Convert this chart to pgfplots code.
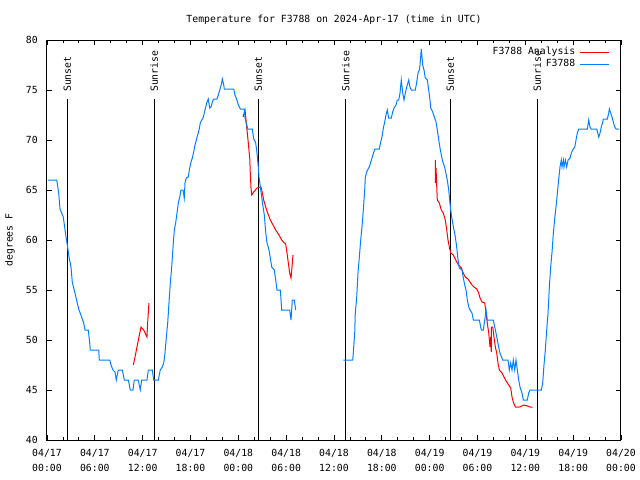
\documentclass[border=0pt]{standalone}
\usepackage{pgfplots}
\pgfplotsset{compat=1.18}
\usepackage{fontspec}
\setmainfont{DejaVu Sans Mono}
\definecolor{obsblue}{RGB}{0,128,255}
\newcommand\gfont{\fontsize{9.8bp}{15bp}\selectfont}
\begin{document}
\begin{tikzpicture}
\begin{axis}[
  scale only axis, width=574bp, height=400bp,
  xmin=0, xmax=72, ymin=40, ymax=80,
  xtick={0,6,...,72}, minor x tick num=2,
  xticklabels={{04/17\\00:00},{04/17\\06:00},{04/17\\12:00},{04/17\\18:00},{04/18\\00:00},{04/18\\06:00},{04/18\\12:00},{04/18\\18:00},{04/19\\00:00},{04/19\\06:00},{04/19\\12:00},{04/19\\18:00},{04/20\\00:00}},
  ytick={40,45,...,80},
  tick align=inside, tick pos=both,
  major tick length=5bp, minor tick length=3bp,
  every tick/.style={black, line width=0.8bp},
  axis line style={line width=1bp},
  /pgf/number format/assume math mode=true,
  tick label style={font=\gfont},
  xticklabel style={align=center, inner sep=0pt, yshift=-9bp},
  yticklabel style={inner sep=0pt, xshift=-9bp},
  title={Temperature for F3788 on 2024-Apr-17 (time in UTC)},
  title style={font=\gfont, at={(axis description cs:0.5,1)}, anchor=center, yshift=14bp, inner sep=0pt},
  ylabel={degrees F},
  ylabel style={font=\gfont, at={(axis description cs:-0.0645,0.5)}, anchor=center, rotate=0, inner sep=0pt},
  unbounded coords=jump,
  legend plot pos=right,
  legend cell align=right,
  legend image code/.code={\draw[#1] (0bp,0bp) -- (29bp,0bp);},
  legend style={draw=none, fill=none, at={(axis description cs:1,1)}, anchor=north east, xshift=-11bp, yshift=-6bp, inner sep=0pt, row sep=0pt, column sep=3bp, font=\gfont, nodes={inner sep=1.5bp, text height=7bp, text depth=2bp}},
]
\coordinate (sw) at (rel axis cs:0,0);
% sunrise / sunset lines
\addplot[black, line width=1bp, forget plot] coordinates {(2.55,40) (2.55,74.1)};
\addplot[black, line width=1bp, forget plot] coordinates {(13.46,40) (13.46,74.1)};
\addplot[black, line width=1bp, forget plot] coordinates {(26.51,40) (26.51,74.1)};
\addplot[black, line width=1bp, forget plot] coordinates {(37.47,40) (37.47,74.1)};
\addplot[black, line width=1bp, forget plot] coordinates {(50.60,40) (50.60,74.1)};
\addplot[black, line width=1bp, forget plot] coordinates {(61.50,40) (61.50,74.1)};
\node[rotate=90, anchor=west, inner sep=0pt, font=\gfont] at (axis cs:2.55,74.8) {Sunset};
\node[rotate=90, anchor=west, inner sep=0pt, font=\gfont] at (axis cs:13.46,74.8) {Sunrise};
\node[rotate=90, anchor=west, inner sep=0pt, font=\gfont] at (axis cs:26.51,74.8) {Sunset};
\node[rotate=90, anchor=west, inner sep=0pt, font=\gfont] at (axis cs:37.47,74.8) {Sunrise};
\node[rotate=90, anchor=west, inner sep=0pt, font=\gfont] at (axis cs:50.60,74.8) {Sunset};
\node[rotate=90, anchor=west, inner sep=0pt, font=\gfont] at (axis cs:61.50,74.8) {Sunrise};
% analysis (red)
\addplot[red, line width=1bp] table {
x y
10.83 47.5
11.04 48.3
11.29 49.3
11.54 50.3
11.79 51.3
12.13 51.0
12.54 50.3
12.63 51.8
12.79 53.7
nan nan
24.59 72.3
24.84 73.0
25.09 71.0
25.25 69.7
25.43 68.2
25.50 66.7
25.59 65.2
25.68 64.5
25.93 64.8
26.34 65.2
26.84 65.3
27.01 64.7
27.18 64.0
27.43 63.3
27.68 62.7
28.01 62.0
28.35 61.5
28.69 61.0
29.10 60.5
29.44 60.0
29.77 59.7
29.94 59.6
30.11 58.7
30.27 57.7
30.44 56.7
30.61 56.2
30.70 57.0
30.86 58.5
nan nan
48.71 68.0
48.72 65.7
48.80 67.2
48.89 65.3
48.96 64.0
49.21 63.7
49.46 63.0
49.71 62.7
49.96 62.0
50.14 61.0
50.30 60.0
50.47 59.3
50.64 58.7
50.97 58.5
51.14 58.2
51.39 57.8
51.64 57.5
51.97 57.2
52.22 56.7
52.47 56.3
52.81 56.1
53.06 55.8
53.31 55.5
53.56 55.3
53.90 55.1
54.15 54.7
54.32 54.2
54.57 53.8
54.91 53.7
55.07 52.7
55.23 51.7
55.41 50.7
55.57 49.3
55.66 50.3
55.73 48.8
55.75 51.3
55.91 51.3
56.07 50.3
56.24 49.3
56.41 48.7
56.57 47.7
56.74 47.0
57.08 46.7
57.33 46.3
57.67 45.8
57.92 45.5
58.17 45.2
58.33 44.3
58.49 43.8
58.75 43.3
59.25 43.3
59.84 43.5
60.25 43.4
60.59 43.3
60.93 43.3
};
\addlegendentry{F3788 Analysis}
% observations (blue)
\addplot[obsblue, line width=1bp] table {
x y
0.10 66.0
1.22 66.0
1.47 64.7
1.63 63.1
2.04 62.3
2.35 60.5
2.55 59.5
2.76 58.3
3.01 57.3
3.17 55.8
3.51 54.7
3.80 53.7
4.01 53.0
4.26 52.5
4.60 51.7
4.77 51.0
5.18 51.0
5.36 49.7
5.43 49.0
6.49 49.0
6.56 48.0
7.87 48.0
8.03 47.5
8.28 47.0
8.53 46.8
8.69 46.0
8.94 47.0
9.45 47.0
9.70 46.0
10.20 46.0
10.45 45.0
10.79 45.0
10.95 46.0
11.45 46.0
11.70 45.0
11.88 46.0
12.54 46.0
12.71 47.0
13.21 47.0
13.38 46.0
13.96 46.0
14.21 47.0
14.46 47.3
14.64 47.7
14.80 48.7
14.97 50.3
15.14 51.7
15.30 53.7
15.47 55.7
15.64 57.3
15.81 59.3
15.97 61.0
16.14 61.7
16.31 62.7
16.47 63.7
16.65 64.3
16.81 65.0
17.06 65.0
17.22 64.2
17.31 65.7
17.47 66.2
17.72 66.3
17.90 67.2
18.06 67.8
18.23 68.2
18.40 68.8
18.57 69.5
18.73 70.0
18.90 70.5
19.07 71.0
19.23 71.7
19.41 72.0
19.57 72.2
19.73 72.7
19.91 73.3
20.07 73.8
20.23 74.1
20.41 73.2
20.57 73.3
20.74 73.8
20.91 74.1
21.32 74.1
21.49 74.5
21.74 75.2
21.91 75.7
21.99 76.1
22.17 75.5
22.24 75.1
23.42 75.1
23.58 74.5
23.83 74.0
24.00 73.5
24.25 73.1
24.75 73.1
24.84 72.2
25.18 71.1
25.75 71.1
25.93 70.1
26.18 69.7
26.34 68.7
26.51 67.3
26.59 66.3
26.76 65.3
26.93 64.3
27.10 63.3
27.26 62.5
27.43 60.8
27.60 59.7
27.85 59.0
28.01 58.2
28.19 57.3
28.51 57.0
28.69 56.0
28.85 55.0
29.27 55.0
29.44 53.0
30.44 53.0
30.61 52.0
30.77 54.0
31.02 54.0
31.20 53.0
nan nan
37.17 48.0
38.35 48.0
38.42 48.7
38.60 50.7
38.67 52.7
38.85 54.3
39.01 56.7
39.18 58.3
39.35 60.0
39.51 61.3
39.68 63.0
39.85 65.0
39.93 66.3
40.10 66.8
40.27 67.1
40.43 67.3
40.61 67.8
40.77 68.2
41.11 69.1
41.68 69.1
41.86 69.8
42.02 70.3
42.19 71.2
42.36 71.8
42.52 72.5
42.69 73.0
42.86 72.2
43.19 72.2
43.36 72.8
43.53 73.2
43.78 73.5
43.94 74.0
44.12 74.0
44.28 74.7
44.44 76.0
44.62 74.7
44.78 74.0
44.95 74.7
45.12 75.3
45.37 76.0
45.53 75.3
45.70 75.0
46.20 75.0
46.38 75.8
46.54 76.7
46.70 77.0
46.79 77.5
46.95 79.1
47.13 77.5
47.29 77.0
47.45 76.2
47.71 76.0
47.88 75.0
48.04 74.0
48.13 73.2
48.38 72.8
48.63 72.2
48.80 71.8
48.96 71.0
49.14 70.0
49.30 69.2
49.46 68.5
49.64 67.8
49.80 67.5
49.96 67.0
50.21 66.0
50.39 65.0
50.55 63.7
50.64 63.0
50.80 62.1
51.05 61.0
51.22 60.3
51.39 59.3
51.56 58.0
51.72 57.2
52.06 57.0
52.22 56.2
52.40 55.5
52.56 55.0
52.72 54.0
52.90 53.3
53.06 53.0
53.31 52.7
53.48 52.0
54.23 52.0
54.40 51.3
54.48 51.0
54.73 51.0
54.91 52.0
55.07 53.0
55.23 52.0
55.98 52.0
56.16 51.3
56.32 50.7
56.49 50.0
56.66 49.3
56.82 48.7
57.16 48.0
57.83 48.0
57.99 47.0
58.17 47.7
58.33 47.0
58.49 48.0
58.67 47.0
58.83 48.0
59.00 47.0
59.17 46.0
59.33 45.3
59.58 44.7
59.75 44.0
60.25 44.0
60.42 44.7
60.59 45.0
62.01 45.0
62.18 45.7
62.34 47.5
62.51 49.0
62.68 51.0
62.85 52.7
63.01 55.3
63.18 57.3
63.35 58.8
63.51 60.6
63.69 62.2
63.85 63.3
64.01 64.6
64.19 66.1
64.35 67.3
64.51 68.0
64.60 67.3
64.77 68.0
64.85 67.3
65.02 68.0
65.19 67.3
65.36 68.0
65.61 68.2
65.77 68.7
65.94 69.0
66.20 69.3
66.36 70.0
66.52 70.7
66.70 71.1
67.78 71.1
67.95 72.0
68.11 71.3
68.28 71.1
68.96 71.1
69.21 70.3
69.37 70.7
69.53 71.3
69.71 71.8
69.78 72.1
70.29 72.1
70.46 72.7
70.54 73.1
70.71 72.7
70.87 72.3
71.04 71.8
71.21 71.3
71.38 71.1
71.79 71.1
};
\addlegendentry{F3788}
\end{axis}
\pgfresetboundingbox
\path ([shift={(-47bp,-40bp)}]sw) rectangle ([shift={(593bp,440bp)}]sw);
\end{tikzpicture}
\end{document}
